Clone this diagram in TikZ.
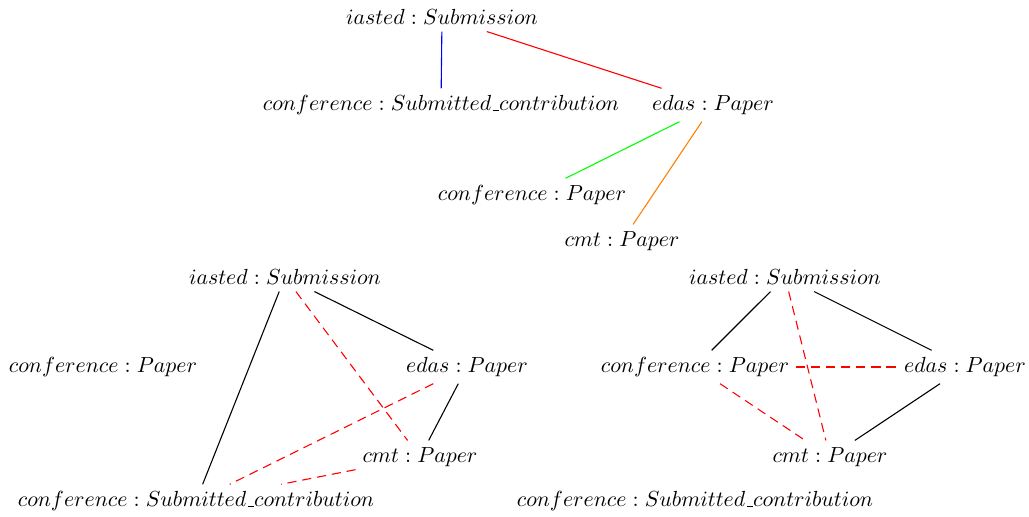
\documentclass[tikz,border=0pt]{standalone}
\usetikzlibrary{positioning}

\newcommand{\usbar}{\mbox{\kern.06em\vbox{\hrule width .3em}}}

\tikzset{
  concept/.style={inner sep=3pt},
  link/.style={line width=0.5pt},
  match/.style={red, dash pattern=on 4.2pt off 2.7pt, line width=0.5pt}
}

\begin{document}
\begin{tikzpicture}[x=0.458pt, y=-0.458pt]
\useasboundingbox (0,0) rectangle (1029,516);
% top
\node[concept] (sub) at (442,17) {$iasted : Submission$};
\node[concept] (subcontrib) at (441,105) {$conference : Submitted\usbar contribution$};
\node[concept] (edas) at (713,105) {$edas : Paper$};
\node[concept] (confpaper) at (532,195) {$conference : Paper$};
\node[concept] (cmt) at (622,241) {$cmt : Paper$};
\draw[blue, link] (sub) -- (subcontrib);
\draw[red, link] (sub) -- (edas);
\draw[green, link] (edas) -- (confpaper);
\draw[orange, link] (edas) -- (cmt);
% bottom left
\node[concept] (lsub) at (285,277) {$iasted : Submission$};
\node[concept] (lconfpaper) at (103,367) {$conference : Paper$};
\node[concept] (ledas) at (467,367) {$edas : Paper$};
\node[concept] (lcmt) at (420,457) {$cmt : Paper$};
\node[concept] (lsubcontrib) at (196,501) {$conference : Submitted\usbar contribution$};
\draw[link] (lsub) -- (lsubcontrib);
\draw[link] (lsub) -- (ledas);
\draw[link] (ledas) -- (lcmt);
\draw[match] (lsub) -- (lcmt);
\draw[match] (ledas) -- (lsubcontrib);
\draw[match] (lcmt) -- (lsubcontrib);
% bottom right
\node[concept] (rsub) at (785,277) {$iasted : Submission$};
\node[concept] (rconfpaper) at (695,367) {$conference : Paper$};
\node[concept] (redas) at (965,367) {$edas : Paper$};
\node[concept] (rcmt) at (830,457) {$cmt : Paper$};
\node[concept] (rsubcontrib) at (695,501) {$conference : Submitted\usbar contribution$};
\draw[link] (rsub) -- (rconfpaper);
\draw[link] (rsub) -- (redas);
\draw[link] (redas) -- (rcmt);
\draw[match] (rsub) -- (rcmt);
\draw[match] (rconfpaper) -- (redas);
\draw[match] (rconfpaper) -- (rcmt);
\end{tikzpicture}
\end{document}
